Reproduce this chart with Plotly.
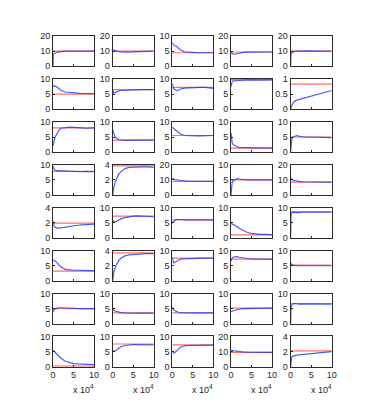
import plotly.graph_objects as go
from plotly.subplots import make_subplots

## data: running means (x in units of 10^4 iterations) and true values
x_iter = [0, 0.1, 0.3, 0.6, 1, 1.5, 2, 3, 4, 5, 6, 7, 8, 9, 10]

row1 = [
    [0, 8, 8.3, 8.8, 9.3, 9.6, 9.8, 10, 10, 10.1, 10.2, 10.3, 10.1, 10, 10],
    [11, 10.8, 10.6, 10.4, 10.1, 9.8, 9.6, 9.4, 9.5, 9.6, 9.7, 9.8, 9.8, 9.9, 10],
    [8, 7.5, 7, 6.8, 6.6, 6, 5.4, 4.8, 4.6, 4.6, 4.5, 4.5, 4.5, 4.6, 4.5],
    [9, 8.8, 8.4, 8.1, 8, 8.3, 8.8, 9.2, 9.4, 9.4, 9.5, 9.5, 9.5, 9.6, 9.5],
    [0, 8.5, 9, 9.5, 9.8, 10, 10.1, 10.2, 10.1, 10.2, 10.1, 10, 10, 10, 10],
]
row2 = [
    [8, 7.6, 7.5, 7.7, 7.3, 6.8, 6.2, 5.7, 5.5, 5.4, 5.3, 5.2, 5.2, 5.2, 5.2],
    [6.5, 5.8, 5.3, 5.5, 5.9, 6.1, 6.2, 6.3, 6.4, 6.4, 6.5, 6.5, 6.5, 6.5, 6.5],
    [8.5, 7.2, 6.8, 6.5, 6.2, 6.3, 6.7, 7, 7.1, 7.2, 7.3, 7.2, 7.2, 7, 6.9],
    [7.5, 8.8, 9.2, 9.4, 9.5, 9.6, 9.5, 9.6, 9.7, 9.6, 9.7, 9.6, 9.7, 9.6, 9.7],
    [0, 0.05, 0.12, 0.2, 0.27, 0.3, 0.32, 0.36, 0.39, 0.42, 0.46, 0.5, 0.54, 0.58, 0.62],
]
row3 = [
    [2, 2.8, 4, 5.3, 6.5, 7.4, 7.9, 8.2, 8.3, 8.2, 8, 8, 7.9, 8, 8],
    [7.5, 6.8, 6, 5.2, 4.5, 4.1, 4, 3.9, 4, 4, 4, 4.1, 4, 4, 4],
    [8.5, 8, 7.8, 7.5, 7, 6.5, 6, 5.5, 5.4, 5.3, 5.4, 5.4, 5.5, 5.4, 5.5],
    [6.5, 4, 3, 2.4, 2, 1.8, 1.6, 1.5, 1.4, 1.4, 1.4, 1.4, 1.3, 1.3, 1.3],
    [0, 3.5, 4.5, 5, 5.3, 5.5, 5.3, 5, 5, 5, 4.9, 4.9, 4.9, 4.8, 4.8],
]
row4 = [
    [9.5, 9, 8.5, 8.2, 8, 8, 8, 7.9, 7.8, 7.7, 7.6, 7.7, 7.8, 7.7, 7.7],
    [0, 0.5, 1.1, 1.7, 2.3, 2.8, 3.1, 3.5, 3.65, 3.7, 3.72, 3.73, 3.74, 3.72, 3.7],
    [11.5, 11, 10.5, 10.2, 10, 9.7, 9.5, 9.3, 9.2, 9.1, 9.1, 9, 9, 9, 9],
    [0, 3.5, 4.3, 4.8, 5.2, 5.4, 5.3, 5.1, 5, 5, 4.9, 5, 5, 5, 5],
    [11.5, 11, 10.2, 9.8, 9.5, 9.2, 9, 8.8, 8.7, 8.6, 8.5, 8.5, 8.5, 8.5, 8.5],
]
row5 = [
    [2.2, 1.7, 1.5, 1.4, 1.3, 1.3, 1.35, 1.45, 1.55, 1.62, 1.68, 1.73, 1.77, 1.8, 1.83],
    [6, 5.4, 5.2, 5.3, 5.6, 6, 6.3, 6.7, 7, 7.2, 7.3, 7.3, 7.2, 7.1, 7],
    [5.5, 5, 5.2, 5.8, 6.1, 6.2, 6.1, 6, 6, 5.9, 5.9, 6, 6, 6, 6],
    [5, 4.8, 4.6, 4.4, 4.2, 3.7, 3.2, 2.4, 1.8, 1.5, 1.3, 1.2, 1.2, 1.1, 1.1],
    [0, 7.5, 8.3, 8.5, 8.4, 8.5, 8.4, 8.5, 8.5, 8.4, 8.5, 8.5, 8.4, 8.5, 8.5],
]
row6 = [
    [7, 6.8, 6.6, 6.5, 6, 5.2, 4.5, 3.8, 3.6, 3.5, 3.5, 3.4, 3.4, 3.4, 3.4],
    [0, 0.6, 1.2, 1.8, 2.3, 2.7, 3, 3.3, 3.45, 3.5, 3.55, 3.55, 3.6, 3.6, 3.6],
    [7.8, 6.5, 6, 6.1, 6.5, 6.9, 7.2, 7.3, 7.4, 7.4, 7.5, 7.5, 7.5, 7.5, 7.5],
    [6.5, 7.2, 7.6, 7.9, 8, 8, 7.8, 7.5, 7.4, 7.3, 7.3, 7.2, 7.2, 7.2, 7.2],
    [6, 5.6, 5.3, 5.1, 5, 5, 5, 5, 5, 4.9, 4.9, 5, 5, 5, 5],
]
row7 = [
    [4, 4.3, 4.8, 5, 5.2, 5.3, 5.3, 5.2, 5.1, 5, 5, 5, 5, 5, 5],
    [5.5, 4.8, 4.4, 4.2, 4, 3.8, 3.7, 3.6, 3.5, 3.5, 3.5, 3.5, 3.5, 3.5, 3.5],
    [5.5, 5, 4.7, 4.3, 4, 3.8, 3.7, 3.6, 3.6, 3.6, 3.6, 3.6, 3.6, 3.6, 3.6],
    [4, 4.1, 4.2, 4.3, 4.5, 4.6, 4.8, 5, 5, 5.1, 5.1, 5.1, 5.2, 5.2, 5.2],
    [0, 5.5, 6.2, 6.6, 6.7, 6.6, 6.5, 6.6, 6.5, 6.5, 6.5, 6.5, 6.5, 6.5, 6.5],
]
row8 = [
    [5.5, 5.2, 5, 4.6, 4, 3.3, 2.7, 1.8, 1.3, 1, 0.9, 0.8, 0.7, 0.7, 0.7],
    [5.5, 5.1, 5, 5.2, 5.6, 6.2, 6.6, 7, 7.2, 7.3, 7.3, 7.3, 7.3, 7.2, 7.2],
    [5, 4.6, 4.5, 4.6, 5, 5.8, 6.4, 6.9, 7, 7, 7, 7.1, 7.1, 7.1, 7.1],
    [11, 11, 10.8, 10.7, 10.5, 10.2, 10, 9.7, 9.6, 9.5, 9.5, 9.5, 9.4, 9.4, 9.4],
    [0, 1.1, 1.3, 1.4, 1.5, 1.52, 1.55, 1.6, 1.65, 1.7, 1.75, 1.8, 1.87, 1.92, 1.98],
]
running_means = [row1, row2, row3, row4, row5, row6, row7, row8]

true_values = [
    [10, 10, 4.5, 9.5, 10],
    [5, 6.5, 7.2, 9.8, 0.83],
    [8, 4, 5.5, 1.3, 5],
    [7.8, 3.85, 9, 5, 8.5],
    [1.95, 7.2, 6, 1, 8.7],
    [3.2, 3.7, 7.5, 7.2, 5.2],
    [5, 3.6, 3.6, 5.2, 6.7],
    [0.2, 7.5, 7.2, 9.5, 2.1],
]

y_max = [
    [20, 20, 10, 20, 20],
    [10, 10, 10, 10, 1],
    [10, 10, 10, 10, 10],
    [10, 4, 20, 10, 20],
    [4, 10, 10, 10, 10],
    [10, 4, 10, 10, 10],
    [10, 10, 10, 10, 10],
    [10, 10, 10, 20, 4],
]

x_ticks = [0, 5, 10]

## layout in screen pixels (page body has an 8px margin)
OFF = 8
W, H = 374 - 2 * OFF, 417 - 2 * OFF
col_left = [51, 112, 173, 233, 294]
row_top = [31.7, 75.7, 119.7, 163.7, 207.7, 251.7, 295.7, 339.7]
box_w, box_h = 42, 31

n_rows, n_cols = 8, 5
fig = make_subplots(rows=n_rows, cols=n_cols)

font = dict(family="Liberation Sans, Arial, sans-serif", size=9, color="#262626")

for r in range(n_rows):
    for c in range(n_cols):
        ym = y_max[r][c]
        # true value (red) then running mean (blue)
        fig.add_trace(go.Scatter(
            x=[x_ticks[0], x_ticks[-1]], y=[true_values[r][c]] * 2,
            mode='lines', line=dict(color='rgba(255,60,60,0.75)', width=1.2),
            showlegend=False, hoverinfo='skip'), row=r + 1, col=c + 1)
        fig.add_trace(go.Scatter(
            x=x_iter, y=running_means[r][c],
            mode='lines', line=dict(color='rgba(30,50,255,0.8)', width=1.2),
            showlegend=False), row=r + 1, col=c + 1)

        idx = r * n_cols + c + 1
        xa = 'xaxis' if idx == 1 else f'xaxis{idx}'
        ya = 'yaxis' if idx == 1 else f'yaxis{idx}'
        x0 = (col_left[c] - OFF) / W
        y1 = 1 - (row_top[r] - OFF) / H
        fig.layout[xa].update(
            domain=[x0, x0 + box_w / W], range=[0, 10],
            tickvals=x_ticks, showticklabels=(r == n_rows - 1),
            ticks='inside', ticklen=2, tickcolor='#262626',
            showline=True, mirror=True, linecolor='#2b2b2b', linewidth=1,
            showgrid=False, zeroline=False, tickfont=font)
        fig.layout[ya].update(
            domain=[y1 - box_h / H, y1], range=[0, ym],
            tickvals=[0, ym / 2, ym],
            ticktext=[('%g' % v) for v in [0, ym / 2, ym]],
            ticks='inside', ticklen=2, tickcolor='#262626',
            showline=True, mirror=True, linecolor='#2b2b2b', linewidth=1,
            showgrid=False, zeroline=False, tickfont=font)

# exponent label under each bottom plot
for c in range(n_cols):
    fig.add_annotation(
        x=(col_left[c] + box_w + 2 - OFF) / W, y=1 - (394 - OFF) / H,
        xref='paper', yref='paper', xanchor='right', yanchor='middle',
        showarrow=False, text='x 10<sup>4</sup>', font=font)

fig.update_layout(
    width=W, height=H,
    margin=dict(l=0, r=0, t=0, b=0),
    plot_bgcolor='white', paper_bgcolor='white',
)

fig.write_html("out.html")
